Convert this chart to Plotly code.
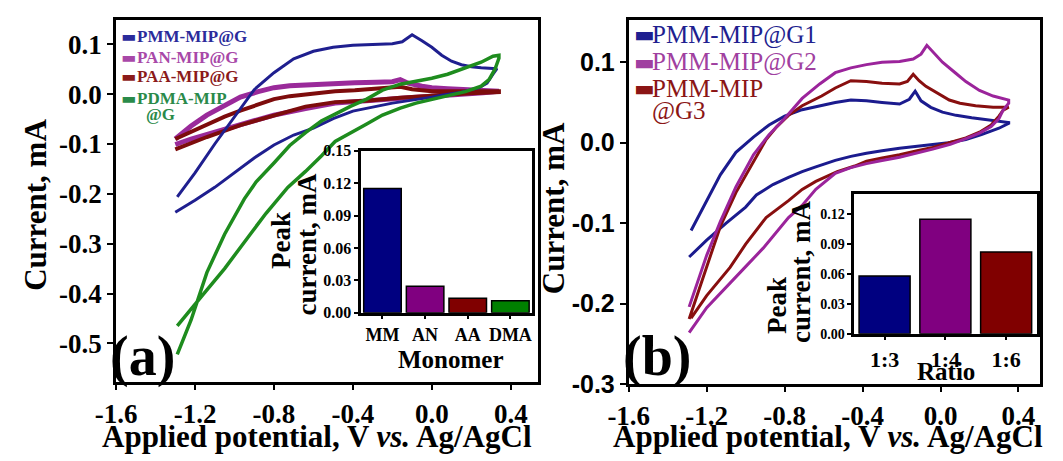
import plotly.graph_objects as go

W, H = 1063, 461

# ---------------- Panel (a): CV loops ----------------
a_pmm_fwd_v = [-1.29, -1.2, -1.1, -1.0, -0.9, -0.8, -0.7, -0.6, -0.5, -0.4, -0.3, -0.2, -0.15, -0.10, -0.05, 0.0, 0.05, 0.1, 0.15, 0.2, 0.25, 0.3, 0.33]
a_pmm_fwd_i = [-0.206, -0.158, -0.100, -0.045, 0.009, 0.043, 0.071, 0.086, 0.094, 0.098, 0.099, 0.101, 0.105, 0.119, 0.107, 0.094, 0.078, 0.066, 0.059, 0.055, 0.053, 0.052, 0.051]
a_pmm_rev_v = [0.33, 0.31, 0.28, 0.24, 0.15, 0.05, 0.0, -0.1, -0.2, -0.3, -0.4, -0.5, -0.6, -0.7, -0.8, -0.9, -1.0, -1.1, -1.2, -1.3]
a_pmm_rev_i = [0.051, 0.040, 0.022, 0.013, 0.004, -0.002, -0.006, -0.012, -0.018, -0.026, -0.034, -0.049, -0.068, -0.082, -0.102, -0.128, -0.158, -0.187, -0.213, -0.237]

a_pan_fwd_v = [-1.30, -1.22, -1.14, -1.05, -0.97, -0.88, -0.80, -0.72, -0.64, -0.52, -0.39, -0.28, -0.20, -0.16, -0.12, -0.05, 0.0, 0.08, 0.17, 0.26, 0.34]
a_pan_fwd_i = [-0.090, -0.064, -0.042, -0.022, -0.006, 0.005, 0.013, 0.017, 0.019, 0.021, 0.023, 0.024, 0.025, 0.029, 0.022, 0.016, 0.013, 0.011, 0.010, 0.009, 0.008]
a_pan_rev_v = [0.34, 0.26, 0.17, 0.08, 0.0, -0.12, -0.24, -0.39, -0.49, -0.64, -0.72, -0.80, -0.88, -0.97, -1.05, -1.14, -1.22, -1.30]
a_pan_rev_i = [0.006, 0.003, 0.0, -0.002, -0.004, -0.007, -0.010, -0.013, -0.018, -0.029, -0.035, -0.042, -0.051, -0.061, -0.070, -0.080, -0.090, -0.101]

a_paa_fwd_v = [-1.30, -1.22, -1.14, -1.05, -0.97, -0.88, -0.80, -0.72, -0.64, -0.49, -0.39, -0.26, -0.20, -0.16, -0.10, 0.0, 0.1, 0.2, 0.34]
a_paa_fwd_i = [-0.090, -0.075, -0.060, -0.045, -0.033, -0.020, -0.010, -0.004, 0.0, 0.006, 0.008, 0.011, 0.013, 0.015, 0.010, 0.006, 0.006, 0.006, 0.006]
a_paa_rev_v = [0.34, 0.2, 0.1, 0.0, -0.16, -0.33, -0.49, -0.64, -0.80, -0.97, -1.14, -1.22, -1.30]
a_paa_rev_i = [0.004, 0.002, 0.0, -0.002, -0.007, -0.013, -0.016, -0.025, -0.042, -0.062, -0.086, -0.098, -0.111]

a_pdma_fwd_v = [-1.29, -1.22, -1.14, -1.05, -0.95, -0.89, -0.80, -0.72, -0.64, -0.56, -0.49, -0.41, -0.33, -0.25, -0.16, -0.08, 0.0, 0.08, 0.17, 0.25, 0.31, 0.34]
a_pdma_fwd_i = [-0.522, -0.453, -0.358, -0.281, -0.210, -0.176, -0.138, -0.103, -0.077, -0.054, -0.040, -0.024, -0.010, 0.008, 0.020, 0.026, 0.032, 0.040, 0.052, 0.064, 0.076, 0.078]
a_pdma_rev_v = [0.34, 0.32, 0.29, 0.25, 0.17, 0.08, 0.0, -0.08, -0.16, -0.25, -0.33, -0.41, -0.49, -0.56, -0.64, -0.73, -0.84, -0.92, -1.05, -1.17, -1.29]
a_pdma_rev_i = [0.072, 0.050, 0.029, 0.016, 0.005, -0.003, -0.010, -0.018, -0.028, -0.042, -0.060, -0.078, -0.095, -0.124, -0.155, -0.187, -0.239, -0.281, -0.350, -0.407, -0.465]

# inset (a)
a_monomers = ["MM", "AN", "AA", "DMA"]
a_peaks = [0.115, 0.0245, 0.0135, 0.011]

# ---------------- Panel (b): CV loops ----------------
b_g1_fwd_v = [-1.28, -1.2, -1.13, -1.05, -0.96, -0.88, -0.8, -0.71, -0.62, -0.54, -0.46, -0.38, -0.3, -0.21, -0.16, -0.13, -0.10, -0.05, 0.01, 0.08, 0.16, 0.25, 0.35]
b_g1_fwd_i = [-0.109, -0.072, -0.040, -0.012, 0.007, 0.022, 0.033, 0.041, 0.046, 0.050, 0.053, 0.052, 0.050, 0.048, 0.054, 0.064, 0.052, 0.044, 0.038, 0.034, 0.031, 0.028, 0.025]
b_g1_rev_v = [0.35, 0.30, 0.21, 0.13, 0.04, -0.04, -0.13, -0.21, -0.30, -0.38, -0.46, -0.54, -0.64, -0.71, -0.78, -0.86, -0.945, -1.0, -1.1, -1.2, -1.29]
b_g1_rev_i = [0.024, 0.018, 0.010, 0.004, 0.0, -0.002, -0.005, -0.007, -0.010, -0.013, -0.017, -0.022, -0.030, -0.036, -0.043, -0.052, -0.065, -0.080, -0.100, -0.121, -0.142]

b_g2_fwd_v = [-1.29, -1.25, -1.2, -1.13, -1.05, -0.96, -0.88, -0.8, -0.71, -0.62, -0.54, -0.46, -0.38, -0.3, -0.21, -0.14, -0.10, -0.07, -0.03, 0.01, 0.08, 0.13, 0.2, 0.27, 0.35]
b_g2_fwd_i = [-0.204, -0.175, -0.140, -0.098, -0.055, -0.015, 0.010, 0.030, 0.055, 0.073, 0.087, 0.093, 0.097, 0.100, 0.101, 0.104, 0.110, 0.121, 0.110, 0.100, 0.086, 0.076, 0.065, 0.058, 0.053]
b_g2_rev_v = [0.35, 0.32, 0.30, 0.26, 0.2, 0.13, 0.05, -0.04, -0.12, -0.21, -0.3, -0.38, -0.46, -0.54, -0.64, -0.71, -0.78, -0.91, -1.0, -1.08, -1.2, -1.29]
b_g2_rev_i = [0.049, 0.040, 0.030, 0.020, 0.012, 0.005, -0.002, -0.008, -0.013, -0.018, -0.022, -0.026, -0.031, -0.038, -0.058, -0.078, -0.093, -0.131, -0.154, -0.174, -0.205, -0.236]

b_g3_fwd_v = [-1.29, -1.25, -1.2, -1.13, -1.05, -0.995, -0.94, -0.895, -0.84, -0.78, -0.71, -0.61, -0.54, -0.46, -0.38, -0.3, -0.21, -0.17, -0.14, -0.11, -0.075, 0.0, 0.045, 0.1, 0.18, 0.27, 0.35]
b_g3_fwd_i = [-0.219, -0.190, -0.155, -0.104, -0.062, -0.038, -0.015, 0.004, 0.020, 0.034, 0.046, 0.058, 0.068, 0.077, 0.076, 0.074, 0.073, 0.076, 0.085, 0.077, 0.070, 0.059, 0.053, 0.049, 0.046, 0.044, 0.044]
b_g3_rev_v = [0.35, 0.32, 0.30, 0.26, 0.2, 0.13, 0.05, -0.04, -0.12, -0.21, -0.3, -0.38, -0.44, -0.53, -0.64, -0.71, -0.78, -0.895, -1.0, -1.08, -1.2, -1.28]
b_g3_rev_i = [0.044, 0.040, 0.033, 0.022, 0.013, 0.006, 0.0, -0.006, -0.010, -0.015, -0.019, -0.023, -0.029, -0.036, -0.048, -0.058, -0.072, -0.093, -0.126, -0.155, -0.190, -0.218]

# inset (b)
b_ratios = ["1:3", "1:4", "1:6"]
b_peaks = [0.058, 0.115, 0.082]

# tick labels
x_tick_vals = [-1.6, -1.2, -0.8, -0.4, 0.0, 0.4]
x_tick_text = ["-1.6", "-1.2", "-0.8", "-0.4", "0.0", "0.4"]
a_y_tick_vals = [0.1, 0.0, -0.1, -0.2, -0.3, -0.4, -0.5]
a_y_tick_text = ["0.1", "0.0", "-0.1", "-0.2", "-0.3", "-0.4", "-0.5"]
b_y_tick_vals = [0.1, 0.0, -0.1, -0.2, -0.3]
b_y_tick_text = ["0.1", "0.0", "-0.1", "-0.2", "-0.3"]
a_in_tick_vals = [0.0, 0.03, 0.06, 0.09, 0.12, 0.15]
a_in_tick_text = ["0.00", "0.03", "0.06", "0.09", "0.12", "0.15"]
b_in_tick_vals = [0.0, 0.03, 0.06, 0.09, 0.12]
b_in_tick_text = ["0.00", "0.03", "0.06", "0.09", "0.12"]

SERIF = "Liberation Serif"
SANS = "Liberation Sans"

fig = go.Figure()

def loop(fv, fi, rv, ri, color, width, xa, ya):
    fig.add_trace(go.Scatter(x=fv + rv, y=fi + ri, mode="lines",
                             line=dict(color=color, width=width),
                             xaxis=xa, yaxis=ya, showlegend=False))

# panel a
loop(a_pan_fwd_v, a_pan_fwd_i, a_pan_rev_v, a_pan_rev_i, "#9a2a9a", 5, "x", "y")
loop(a_paa_fwd_v, a_paa_fwd_i, a_paa_rev_v, a_paa_rev_i, "#7d0c0c", 4, "x", "y")
loop(a_pmm_fwd_v, a_pmm_fwd_i, a_pmm_rev_v, a_pmm_rev_i, "#1f1f8f", 3, "x", "y")
loop(a_pdma_fwd_v, a_pdma_fwd_i, a_pdma_rev_v, a_pdma_rev_i, "#1e8c1e", 3.5, "x", "y")

fig.add_trace(go.Bar(x=a_monomers, y=a_peaks, width=[0.88] * 4,
                     marker=dict(color=["#000080", "#800080", "#800000", "#008000"],
                                 line=dict(color="black", width=1.5)),
                     xaxis="x2", yaxis="y2", showlegend=False))

# panel b
loop(b_g1_fwd_v, b_g1_fwd_i, b_g1_rev_v, b_g1_rev_i, "#1b1b8e", 3, "x3", "y3")
loop(b_g3_fwd_v, b_g3_fwd_i, b_g3_rev_v, b_g3_rev_i, "#880f0f", 3, "x3", "y3")
loop(b_g2_fwd_v, b_g2_fwd_i, b_g2_rev_v, b_g2_rev_i, "#9b249b", 3, "x3", "y3")

fig.add_trace(go.Bar(x=b_ratios, y=b_peaks, width=[0.84] * 3,
                     marker=dict(color=["#000080", "#800080", "#800000"],
                                 line=dict(color="black", width=1.5)),
                     xaxis="x4", yaxis="y4", showlegend=False))

def dx(p):
    return p / W

def dy(p):
    return 1 - p / H

frame = dict(showline=True, linecolor="black", mirror=True, showgrid=False,
             zeroline=False, ticks="outside", tickcolor="black")

fig.update_layout(
    width=W, height=H, margin=dict(l=0, r=0, t=0, b=0),
    paper_bgcolor="white", plot_bgcolor="white", showlegend=False,
    xaxis=dict(frame, domain=[dx(97), dx(527)], range=[-1.6, 0.536], linewidth=3,
               ticklen=5, tickwidth=2, tickvals=x_tick_vals, ticktext=x_tick_text,
               tickfont=dict(family=SERIF, size=27, color="black", weight="bold"),
               anchor="y"),
    yaxis=dict(frame, domain=[dy(393), dy(13)], range=[-0.578, 0.148], linewidth=3,
               ticklen=6, tickwidth=2, tickvals=a_y_tick_vals, ticktext=a_y_tick_text,
               tickfont=dict(family=SERIF, size=27, color="black", weight="bold"),
               anchor="x"),
    xaxis2=dict(frame, domain=[dx(347), dx(521)], range=[-0.5, 3.5], linewidth=2.5,
                ticklen=4, tickwidth=1.5, type="category",
                tickfont=dict(family=SERIF, size=18, color="black", weight="bold"),
                anchor="y2"),
    yaxis2=dict(frame, domain=[dy(320), dy(150)], range=[0, 0.15], linewidth=2.5,
                ticklen=4, tickwidth=1.5, tickvals=a_in_tick_vals, ticktext=a_in_tick_text,
                tickfont=dict(family=SERIF, size=16, color="black", weight="bold"),
                anchor="x2"),
    xaxis3=dict(frame, domain=[dx(620), dx(1040)], range=[-1.6, 0.513], linewidth=3,
                ticklen=5, tickwidth=2, tickvals=x_tick_vals, ticktext=x_tick_text,
                tickfont=dict(family=SERIF, size=27, color="black", weight="bold"),
                anchor="y3"),
    yaxis3=dict(frame, domain=[dy(395), dy(13)], range=[-0.3, 0.152], linewidth=3,
                ticklen=6, tickwidth=2, tickvals=b_y_tick_vals, ticktext=b_y_tick_text,
                tickfont=dict(family=SANS, size=25, color="black", weight="bold"),
                anchor="x3"),
    xaxis4=dict(frame, domain=[dx(850), dx(1036)], range=[-0.5, 2.5], linewidth=2.5,
                ticklen=4, tickwidth=1.5, type="category",
                tickfont=dict(family=SERIF, size=22, color="black", weight="bold"),
                anchor="y4"),
    yaxis4=dict(frame, domain=[dy(342), dy(195)], range=[0, 0.1407], linewidth=2.5,
                ticklen=4, tickwidth=1.5, tickvals=b_in_tick_vals, ticktext=b_in_tick_text,
                tickfont=dict(family=SERIF, size=14, color="black", weight="bold"),
                anchor="x4"),
)

def note(text, x, y, size, family=SERIF, color="black", angle=0, weight="bold",
         xanchor="center"):
    fig.add_annotation(text=text, x=dx(x), y=dy(y), xref="paper", yref="paper",
                       showarrow=False, textangle=angle, xanchor=xanchor, yanchor="middle",
                       font=dict(family=family, size=size, color=color, weight=weight))

# axis titles
xt = "Applied potential, V <i>vs.</i> Ag/AgCl"
note(xt, 302, 450, 31)
note(xt, 823, 450, 31)
note("Current, mA", 14, 207, 31, angle=-90)
note("Current, mA", 544, 210, 31, angle=-90)
note("(a)", 124, 366, 56)
note("(b)", 649, 366, 56)

# inset titles
note("Peak", 266, 244, 27, angle=-90)
note("current, mA", 292, 248, 27, angle=-90)
note("Monomer", 439, 369, 25)
note("Peak", 771, 312, 27, angle=-90)
note("current, mA", 795, 277, 27, angle=-90)
note("Ratio", 944, 382, 25)

# legend (a)
leg_a = [("PMM-MIP@G", "#2b2b9b", 30), ("PAN-MIP@G", "#a848a8", 52),
         ("PAA-MIP@G", "#8b1a1a", 72), ("PDMA-MIP", "#2a8a4a", 95)]
for name, col, yy in leg_a:
    note("▬", 100, yy, 16, family="DejaVu Sans", color=col, weight="normal", xanchor="left")
    note(name, 116, yy, 17, color=col, xanchor="left")
note("@G", 125, 112, 17, color="#2a8a4a", xanchor="left")

# legend (b)
leg_b = [("PMM-MIP@G1", "#1f1f90", 28), ("PMM-MIP@G2", "#a040a0", 57),
         ("PMM-MIP", "#8b1515", 85)]
for name, col, yy in leg_b:
    note("▬", 623, yy, 22, family="DejaVu Sans", color=col, weight="normal", xanchor="left")
    note(name, 642, yy, 25, color=col, weight="normal", xanchor="left")
note("@G3", 642, 108, 25, color="#8b1515", weight="normal", xanchor="left")

fig.write_html("out.html")
